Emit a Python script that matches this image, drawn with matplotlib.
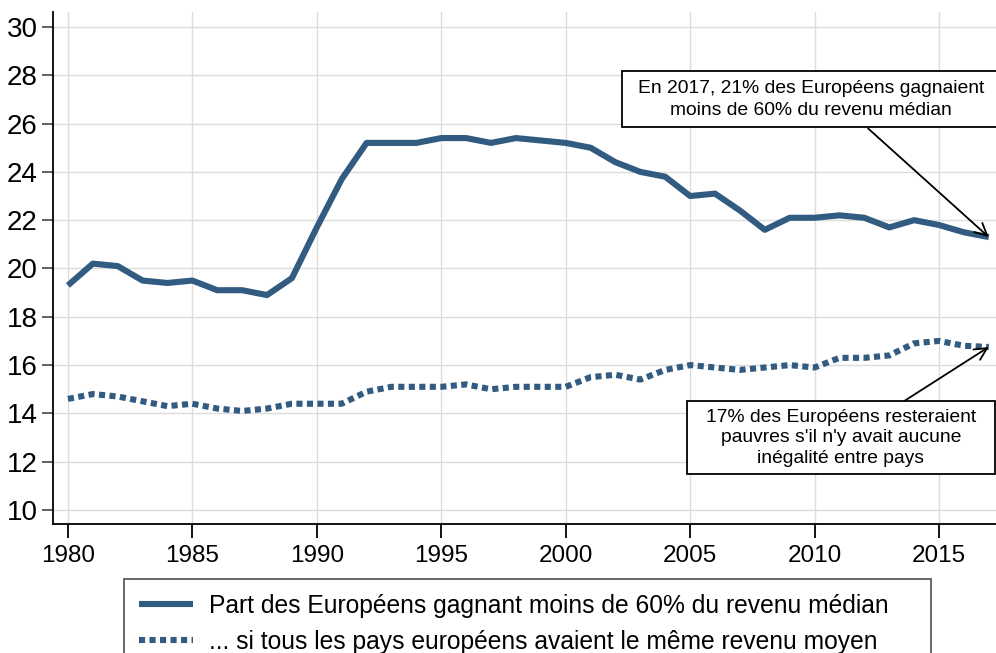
import matplotlib
matplotlib.use("Agg")
import matplotlib.pyplot as plt
from matplotlib.patches import Rectangle

plt.rcParams['font.family'] = ['Liberation Sans', 'DejaVu Sans']

years = list(range(1980, 2018))
share_below_60 = [19.3, 20.2, 20.1, 19.5, 19.4, 19.5, 19.1, 19.1, 18.9, 19.6,
                  21.7, 23.7, 25.2, 25.2, 25.2, 25.4, 25.4, 25.2, 25.4, 25.3,
                  25.2, 25.0, 24.4, 24.0, 23.8, 23.0, 23.1, 22.4, 21.6, 22.1,
                  22.1, 22.2, 22.1, 21.7, 22.0, 21.8, 21.5, 21.3]
same_mean_income = [14.6, 14.8, 14.7, 14.5, 14.3, 14.4, 14.2, 14.1, 14.2, 14.4,
                    14.4, 14.4, 14.9, 15.1, 15.1, 15.1, 15.2, 15.0, 15.1, 15.1,
                    15.1, 15.5, 15.6, 15.4, 15.8, 16.0, 15.9, 15.8, 15.9, 16.0,
                    15.9, 16.3, 16.3, 16.4, 16.9, 17.0, 16.8, 16.75]
label_main = "Part des Européens gagnant moins de 60% du revenu médian"
label_alt = "... si tous les pays européens avaient le même revenu moyen"
note_main = "En 2017, 21% des Européens gagnaient\nmoins de 60% du revenu médian"
note_alt = "17% des Européens resteraient\npauvres s'il n'y avait aucune\ninégalité entre pays"
xticks = [1980, 1985, 1990, 1995, 2000, 2005, 2010, 2015]
yticks = [10, 12, 14, 16, 18, 20, 22, 24, 26, 28, 30]

W, H = 996, 653
fig = plt.figure(figsize=(W / 100, H / 100), dpi=100)
ax = fig.add_axes([53 / W, (H - 524) / H, (W - 53) / W, (524 - 12) / H])

color = '#315b80'
l1, = ax.plot(years, share_below_60, color=color, lw=4.4, solid_capstyle='butt',
              solid_joinstyle='round', label=label_main, zorder=3)
l2, = ax.plot(years, same_mean_income, color=color, lw=4.4, linestyle=(0, (1.0, 0.72)),
              dash_capstyle='butt', label=label_alt, zorder=3)

ax.set_xlim(1979.40, 2017.29)
ax.set_ylim(9.42, 30.62)
ax.set_xticks(xticks)
ax.set_yticks(yticks)
ax.grid(True, color='#dcdcdc', lw=1.0)
ax.set_axisbelow(True)
for s in ['top', 'right']:
    ax.spines[s].set_visible(False)
for s in ['left', 'bottom']:
    ax.spines[s].set_linewidth(1.3)
    ax.spines[s].set_color('black')
ax.tick_params(axis='y', length=8, width=1.3, color='#555555', labelsize=20, pad=3)
ax.tick_params(axis='x', length=10, width=1.3, color='black', labelsize=17.5, pad=5)

# annotation boxes
ax.add_patch(Rectangle((2002.26, 25.84), 15.11, 2.32, transform=ax.transData,
                       facecolor='white', edgecolor='black', lw=1.3, zorder=4, clip_on=False))
ax.text(2009.86, 27.0, note_main, ha='center', va='center', fontsize=13.9,
        linespacing=1.32, zorder=5)
ax.annotate('', xy=(2017, 21.3), xytext=(2012.15, 25.80),
            arrowprops=dict(arrowstyle='->', lw=1.3, color='black',
                            mutation_scale=22, shrinkA=0, shrinkB=0), zorder=5)

ax.add_patch(Rectangle((2004.87, 11.51), 12.38, 3.02, transform=ax.transData,
                       facecolor='white', edgecolor='black', lw=1.3, zorder=4, clip_on=False))
ax.text(2011.06, 13.0, note_alt, ha='center', va='center', fontsize=13.9,
        linespacing=1.27, zorder=5)
ax.annotate('', xy=(2017, 16.75), xytext=(2013.63, 14.53),
            arrowprops=dict(arrowstyle='->', lw=1.3, color='black',
                            mutation_scale=22, shrinkA=0, shrinkB=0), zorder=5)

leg = fig.legend(handles=[l1, l2], loc='upper left',
                 bbox_to_anchor=(124 / W, 0, 807 / W, 1 - 579 / H), mode='expand',
                 fontsize=17.7, frameon=True, fancybox=False, edgecolor='#333333',
                 borderpad=0.6, labelspacing=0.5, handlelength=2.2, handletextpad=0.65,
                 borderaxespad=0)
leg.get_frame().set_linewidth(1.3)

fig.savefig('out.png', dpi=100)
